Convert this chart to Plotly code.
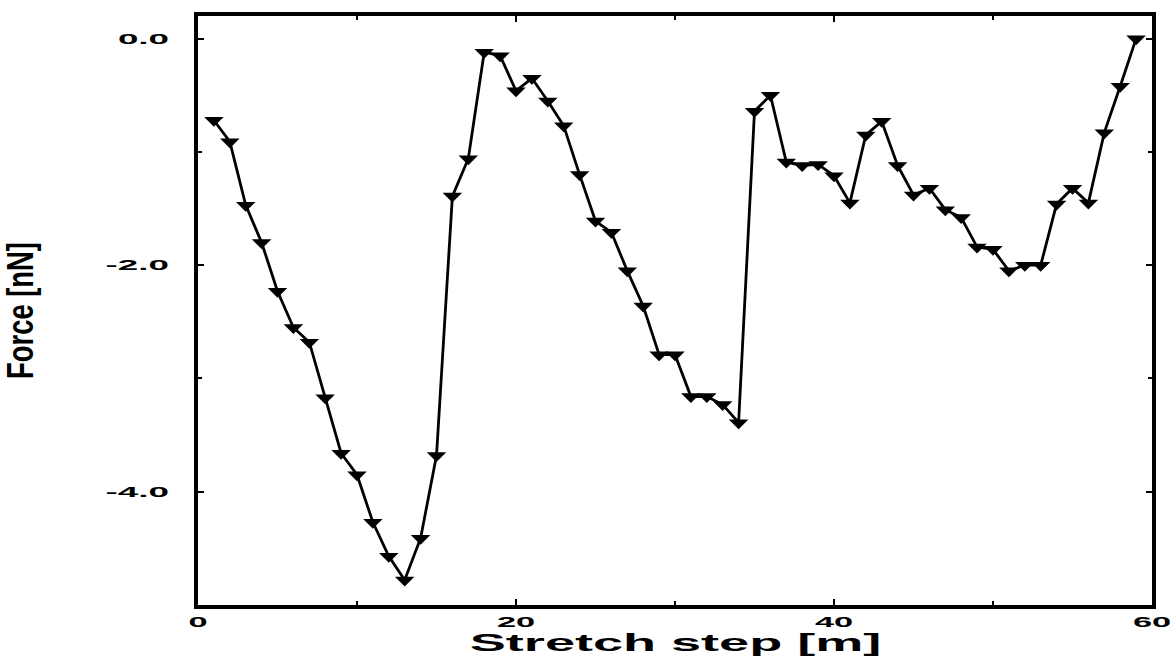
import plotly.graph_objects as go

# Force recorded at each stretch step
steps = list(range(1, 60))
force_nN = [
    -0.72, -0.91, -1.47, -1.80, -2.23, -2.55, -2.68, -3.17, -3.66, -3.85,
    -4.27, -4.57, -4.78, -4.41, -3.68, -1.39, -1.06, -0.12, -0.15, -0.46,
    -0.35, -0.55, -0.77, -1.20, -1.61, -1.71, -2.05, -2.36, -2.79, -2.79,
    -3.16, -3.16, -3.23, -3.39, -0.64, -0.50, -1.09, -1.12, -1.11, -1.21,
    -1.45, -0.85, -0.73, -1.12, -1.38, -1.32, -1.51, -1.58, -1.84, -1.86,
    -2.05, -2.00, -2.00, -1.46, -1.32, -1.45, -0.83, -0.42, 0.00,
]

x_tick_vals = [0, 20, 40, 60]
x_tick_text = ["0", "20", "40", "60"]
y_tick_vals = [0.0, -2.0, -4.0]
y_tick_text = ["0.0", "-2.0", "-4.0"]
x_title = "Stretch step [m]"
y_title = "Force [nN]"

x_tick_font = dict(family="Liberation Sans, Arial, sans-serif", size=14,
                   color="black", weight="bold")
y_tick_font = dict(family="Liberation Sans, Arial, sans-serif", size=15,
                   color="black", weight="bold")

fig = go.Figure(
    go.Scatter(
        x=steps,
        y=force_nN,
        mode="lines+markers",
        line=dict(color="black", width=2.8),
        marker=dict(symbol="triangle-down", size=13, color="black"),
        showlegend=False,
    )
)

common_axis = dict(
    showline=True, linewidth=4, linecolor="black", mirror="allticks",
    ticks="inside", ticklen=6, tickwidth=2, tickcolor="black",
    showgrid=False, zeroline=False,
)

fig.update_xaxes(
    range=[0, 60], tickmode="array", tickvals=x_tick_vals, ticktext=x_tick_text,
    minor=dict(dtick=10, tick0=0, ticks="inside", ticklen=4, tickwidth=2,
               tickcolor="black", showgrid=False),
    ticklabelstandoff=1, tickfont=x_tick_font,
    **common_axis,
)
fig.update_yaxes(
    range=[-5.0, 0.2], tickmode="array", tickvals=y_tick_vals, ticktext=y_tick_text,
    minor=dict(dtick=1, tick0=0, ticks="inside", ticklen=4, tickwidth=2,
               tickcolor="black", showgrid=False),
    ticklabelstandoff=22, tickfont=y_tick_font,
    title=dict(text=y_title, standoff=104,
               font=dict(family="Liberation Sans, Arial, sans-serif", size=37,
                         color="black", weight="bold")),
    **common_axis,
)

fig.add_annotation(
    text=x_title, xref="paper", yref="paper", x=0.5, y=0,
    xanchor="center", yanchor="top", yshift=-24, showarrow=False, borderpad=0,
    font=dict(family="Liberation Sans, Arial, sans-serif", size=23,
              color="black", weight="bold"),
)

fig.update_layout(
    width=1173, height=659,
    margin=dict(l=198, r=21, t=12, b=54),
    paper_bgcolor="white", plot_bgcolor="white",
)

# Wide, extended lettering and flattened triangle markers
post = """
var gd = document.getElementById('{plot_id}');
function fit(sel, f) {
  gd.querySelectorAll(sel).forEach(function (t) {
    var w = t.getComputedTextLength();
    t.setAttribute('lengthAdjust', 'spacingAndGlyphs');
    t.setAttribute('textLength', (w * f).toFixed(1));
  });
}
fit('.xtick text', 2.45);
fit('.ytick text', 2.45);
fit('.annotation-text', 2.35);
fit('.g-ytitle text', 0.74);
gd.querySelectorAll('.scatterlayer path.point').forEach(function (p) {
  var tr = p.getAttribute('transform') || '';
  p.setAttribute('transform', tr + ' scale(1.3,1)');
});
"""

fig.write_html("out.html", post_script=post)
